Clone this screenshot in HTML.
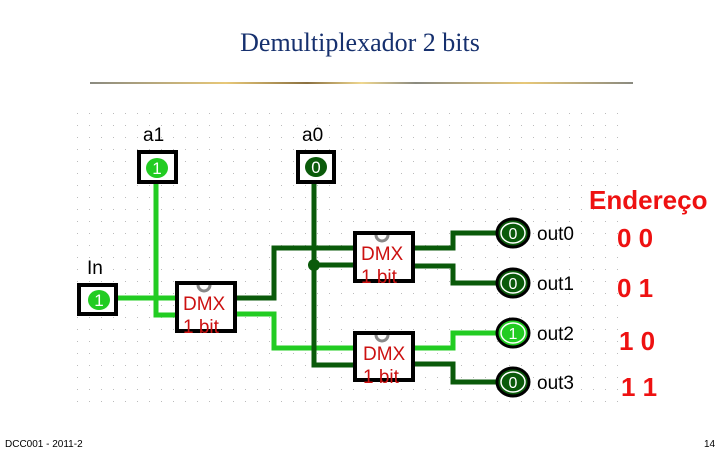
<!DOCTYPE html>
<html><head><style>
body{margin:0;width:720px;height:450px;background:#fff;overflow:hidden;position:relative;font-family:"Liberation Sans",sans-serif}
</style></head><body>
<svg width="720" height="450" xmlns="http://www.w3.org/2000/svg" style="position:absolute;left:0;top:0">
<defs>
<pattern id="d" x="0" y="0" width="12" height="12" patternUnits="userSpaceOnUse"><rect x="5" y="5" width="1" height="1" fill="#bbb"/></pattern>
<linearGradient id="g" x1="0" x2="1"><stop offset="0" stop-color="#8a8a80"/><stop offset="0.25" stop-color="#e8c878"/><stop offset="0.4" stop-color="#8a7040"/><stop offset="0.5" stop-color="#f0d890"/><stop offset="0.6" stop-color="#8a8a80"/><stop offset="0.8" stop-color="#e8c878"/><stop offset="1" stop-color="#8a8a80"/></linearGradient>
</defs>
<text x="360" y="51" text-anchor="middle" font-family="Liberation Serif" font-size="26" fill="#16306e">Demultiplexador 2 bits</text>
<rect x="90" y="82" width="543" height="2" fill="url(#g)"/>
<rect x="75" y="110" width="545" height="300" fill="url(#d)"/>
<text x="5" y="447" font-size="10" fill="#000">DCC001 - 2011-2</text>
<text x="704" y="447" font-size="10" fill="#000">14</text>
<g font-size="19" fill="#000">
<text x="143" y="141">a1</text><text x="302" y="141">a0</text><text x="87" y="274">In</text>
</g>
<g fill="none" stroke-width="5" stroke-linejoin="miter">
<path d="M156 183 V315 H175" stroke="#22cc22"/>
<path d="M117 298 H175" stroke="#22cc22"/>
<path d="M236 314 H274 V348 H353" stroke="#22cc22"/>
<path d="M236 298 H274 V248 H353" stroke="#0a5a0a"/>
<path d="M314 183 V365 H353 M314 265 H353" stroke="#0a5a0a"/>
<path d="M414 248 H453 V233 H498" stroke="#0a5a0a"/>
<path d="M414 266 H453 V283 H498" stroke="#0a5a0a"/>
<path d="M414 348 H453 V333 H498" stroke="#22cc22"/>
<path d="M414 364 H453 V382 H498" stroke="#0a5a0a"/>
</g>
<circle cx="314" cy="265" r="6" fill="#0a5a0a"/>
<g stroke="#000" stroke-width="4" fill="#fff">
<rect x="139" y="152" width="37" height="30"/><rect x="298" y="152" width="36" height="30"/><rect x="79" y="285" width="37" height="29"/>
</g>
<ellipse cx="157" cy="168" rx="11" ry="10" fill="#22cc22"/><ellipse cx="316" cy="167" rx="11" ry="10" fill="#0a5a0a"/><ellipse cx="99" cy="300" rx="11" ry="10" fill="#22cc22"/>
<g font-size="17" fill="#fff" text-anchor="middle"><text x="157" y="174">1</text><text x="316" y="173">0</text><text x="99" y="306">1</text></g>
<g stroke="#000" stroke-width="4" fill="#fff">
<rect x="177" y="283" width="58" height="48"/><rect x="355" y="233" width="58" height="48"/><rect x="355" y="333" width="58" height="47"/>
</g>
<g fill="none" stroke="#888" stroke-width="3">
<path d="M198 285 a6 6 0 0 0 12 0"/><path d="M376 235 a6 6 0 0 0 12 0"/><path d="M376 335 a6 6 0 0 0 12 0"/>
</g>
<g font-size="19" fill="#cc1111">
<text x="183" y="310">DMX</text><text x="183" y="333">1 bit</text>
<text x="361" y="260">DMX</text><text x="361" y="283">1 bit</text>
<text x="363" y="360">DMX</text><text x="363" y="383">1 bit</text>
</g>
<g stroke="#000" stroke-width="3">
<ellipse cx="513" cy="233" rx="16" ry="14" fill="#0a5a0a"/>
<ellipse cx="513" cy="283" rx="16" ry="14" fill="#0a5a0a"/>
<ellipse cx="513" cy="333" rx="16" ry="14" fill="#22cc22"/>
<ellipse cx="513" cy="382" rx="16" ry="14" fill="#0a5a0a"/>
</g>
<g stroke="#fff" stroke-width="1.5" fill="none">
<ellipse cx="513" cy="233" rx="12" ry="10"/><ellipse cx="513" cy="283" rx="12" ry="10"/><ellipse cx="513" cy="333" rx="12" ry="10"/><ellipse cx="513" cy="382" rx="12" ry="10"/>
</g>
<g font-size="16" fill="#fff" text-anchor="middle"><text x="513" y="239">0</text><text x="513" y="289">0</text><text x="513" y="339">1</text><text x="513" y="388">0</text></g>
<g font-size="19" fill="#000"><text x="537" y="240">out0</text><text x="537" y="290">out1</text><text x="537" y="340">out2</text><text x="537" y="389">out3</text></g>
<g font-weight="bold" fill="#ee1111">
<text x="589" y="209" font-size="26">Endereço</text>
<g font-size="26"><text x="617" y="247">0 0</text><text x="617" y="297">0 1</text><text x="619" y="350">1 0</text><text x="621" y="396">1 1</text></g>
</g>
</svg>
</body></html>
